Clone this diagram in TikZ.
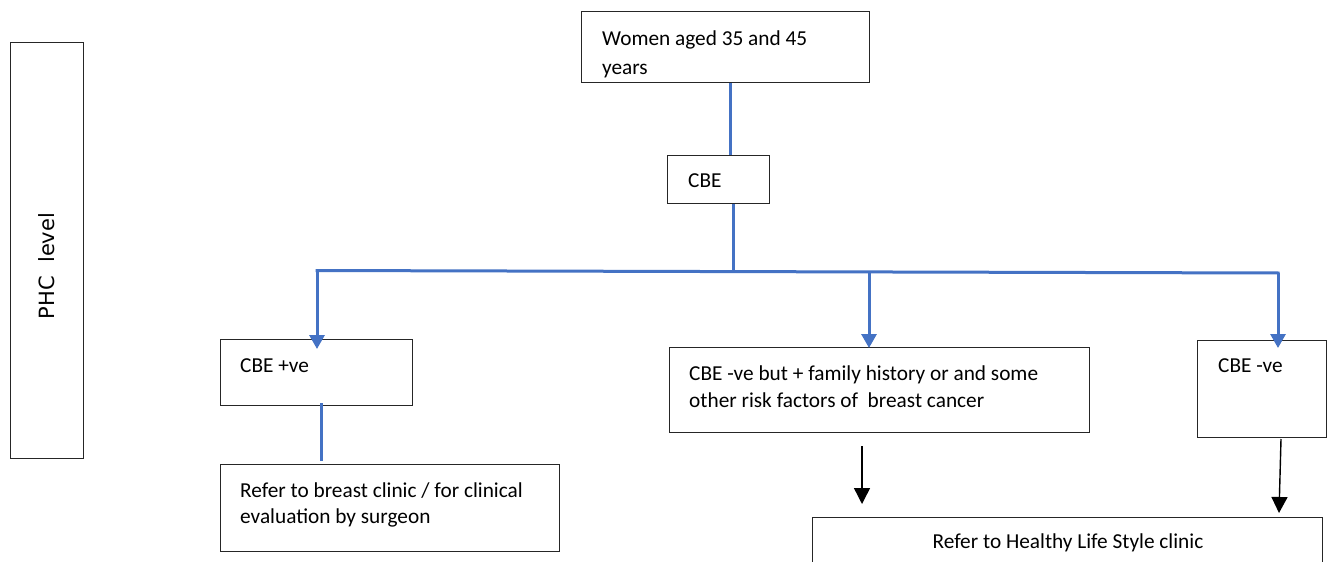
\documentclass[tikz,border=0pt]{standalone}
\usepackage{fontspec}
\setmainfont{Carlito}
\newfontfamily\phcfont{DejaVu Sans}
\usetikzlibrary{arrows.meta}
\definecolor{flowblue}{RGB}{68,114,196}
\tikzset{
  boxnode/.style={draw=black!85, line width=1pt, rectangle, inner sep=0pt, anchor=north west},
  txt/.style={inner sep=0pt, anchor=base west, font=\fontsize{21.3}{29}\selectfont},
  blueline/.style={draw=flowblue, line width=3pt},
  bluearrow/.style={draw=flowblue, line width=3pt, -{Triangle[length=14pt,width=15pt]}},
  blackarrow/.style={draw=black, line width=1.4pt, -{Triangle[length=16pt,width=16pt]}},
}
\begin{document}
\begin{tikzpicture}[x=1pt,y=-1pt]
\path[clip,use as bounding box] (0,0) rectangle (1333,562);
\fill[white] (0,0) rectangle (1333,562);

% boxes
\node[boxnode, minimum width=73, minimum height=416] (phc) at (10,42) {};
\node[boxnode, minimum width=288, minimum height=71] (women) at (581,11) {};
\node[boxnode, minimum width=102, minimum height=48] (cbe) at (667,155) {};
\node[boxnode, minimum width=192, minimum height=66] (pos) at (220,339) {};
\node[boxnode, minimum width=339, minimum height=87] (refer) at (220,464) {};
\node[boxnode, minimum width=420, minimum height=85] (negbut) at (669,347) {};
\node[boxnode, minimum width=129, minimum height=97] (neg) at (1197,340) {};
\node[boxnode, minimum width=510, minimum height=90] (healthy) at (812,517) {};

% texts
\node[inner sep=0pt, anchor=base, rotate=90, font=\phcfont\fontsize{21}{25}\selectfont] (phct) at (54,266) {PHC\ \ level};
\node[txt] (womant) at (602,45) {\begin{tabular}[t]{@{}l@{}}Women aged 35 and 45\\years\end{tabular}};
\node[txt] (cbet) at (688,187) {CBE};
\node[txt] (post) at (240,372) {CBE +ve};
\node[txt, font=\fontsize{21.3}{26}\selectfont] (refert) at (240,497) {\begin{tabular}[t]{@{}l@{}}Refer to breast clinic / for clinical\\evaluation by surgeon\end{tabular}};
\node[txt, font=\fontsize{21.3}{27}\selectfont] (negbutt) at (689,380) {\begin{tabular}[t]{@{}l@{}}CBE -ve but + family history or and some\\other risk factors of\ \ breast cancer\end{tabular}};
\node[txt] (negt) at (1218,372) {CBE -ve};
\node[txt, anchor=base] (healthyt) at (1068,548) {Refer to Healthy Life Style clinic};

% blue connectors
\coordinate (jL) at (317,270.5);
\coordinate (jC) at (733,271);
\coordinate (jM) at (869,271.5);
\coordinate (jR) at (1278,273);
\draw[blueline] (women.south -| 730,0) -- (cbe.north -| 730,0);
\draw[blueline] (cbe.south -| jC) -- (jC);
\draw[blueline, line cap=butt] ([xshift=-1.5pt]jL) -- ([xshift=1.5pt]jR);
\draw[bluearrow] (jL) -- ([yshift=-10pt]pos.north -| jL);
\draw[bluearrow] (jM) -- ([yshift=-1pt]negbut.north -| jM);
\draw[bluearrow] (jR) -- ([yshift=-8pt]neg.north -| jR);
\draw[blueline] ([yshift=3pt]pos.south -| 321,0) -- ([yshift=3pt]refer.north -| 321,0);

% black arrows
\draw[blackarrow] ([yshift=-13pt]negbut.south -| 862,0) -- ([yshift=13pt]healthy.north -| 862,0);
\draw[blackarrow] ([yshift=-1pt]neg.south -| 1281,0) -- ([yshift=4pt]healthy.north -| 1279,0);
\end{tikzpicture}
\end{document}
